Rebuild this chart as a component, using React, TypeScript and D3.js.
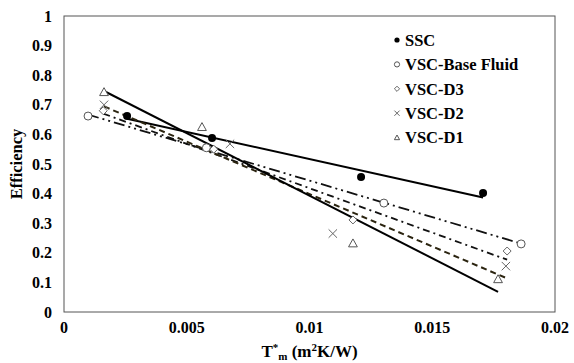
import React from "react";
import * as d3 from "d3";

// efficiency vs reduced temperature
const sscData = [
  [0.00257, 0.662],
  [0.00603, 0.588],
  [0.0121, 0.456],
  [0.01707, 0.402],
];
const baseFluidData = [
  [0.00098, 0.662],
  [0.0058, 0.555],
  [0.01303, 0.368],
  [0.01862, 0.23],
];
const d3Data = [
  [0.0016, 0.68],
  [0.0061, 0.55],
  [0.01177, 0.311],
  [0.01805, 0.206],
];
const d2Data = [
  [0.00163, 0.7],
  [0.00676, 0.568],
  [0.01095, 0.265],
  [0.018, 0.155],
];
const d1Data = [
  [0.00163, 0.743],
  [0.00562, 0.625],
  [0.01177, 0.232],
  [0.01768, 0.111],
];

const seriesNames = ["SSC", "VSC-Base Fluid", "VSC-D3", "VSC-D2", "VSC-D1"];
const xTicks = [0, 0.005, 0.01, 0.015, 0.02];
const xTickLabels = ["0", "0.005", "0.01", "0.015", "0.02"];
const yTicks = [0, 0.1, 0.2, 0.3, 0.4, 0.5, 0.6, 0.7, 0.8, 0.9, 1];
const yTickLabels = ["0", "0.1", "0.2", "0.3", "0.4", "0.5", "0.6", "0.7", "0.8", "0.9", "1"];

const W = 574;
const H = 363;
const margin = { left: 64, right: 19, top: 16, bottom: 51 };
const font = "'Liberation Serif', 'Times New Roman', serif";

// excel style linear trendline over the data's x range
function trend(pts: number[][]) {
  const mx = d3.mean(pts, (p) => p[0]) as number;
  const my = d3.mean(pts, (p) => p[1]) as number;
  const sxy = d3.sum(pts, (p) => (p[0] - mx) * (p[1] - my));
  const sxx = d3.sum(pts, (p) => (p[0] - mx) ** 2);
  const b = sxy / sxx;
  const [x0, x1] = d3.extent(pts, (p) => p[0]) as [number, number];
  return [
    [x0, my + b * (x0 - mx)],
    [x1, my + b * (x1 - mx)],
  ];
}

const Marker = ({ kind, x, y, s }: { kind: string; x: number; y: number; s: number }) => {
  if (kind === "dot") return <circle cx={x} cy={y} r={s} fill="#000" />;
  if (kind === "circle")
    return <circle cx={x} cy={y} r={s} fill="#fff" stroke="#555" strokeWidth={1} />;
  if (kind === "diamond")
    return (
      <path
        d={`M${x},${y - s}L${x + s},${y}L${x},${y + s}L${x - s},${y}Z`}
        fill="#fff"
        stroke="#666"
        strokeWidth={1}
      />
    );
  if (kind === "cross")
    return (
      <path
        d={`M${x - s},${y - s}L${x + s},${y + s}M${x - s},${y + s}L${x + s},${y - s}`}
        stroke="#666"
        strokeWidth={1}
      />
    );
  return (
    <path
      d={`M${x},${y - s}L${x + s},${y + s * 0.8}L${x - s},${y + s * 0.8}Z`}
      fill="#fff"
      stroke="#555"
      strokeWidth={1}
    />
  );
};

export default function App() {
  const x = d3.scaleLinear().domain([0, 0.02]).range([margin.left, W - margin.right]);
  const y = d3.scaleLinear().domain([0, 1]).range([H - margin.bottom, margin.top]);
  const line = d3
    .line<number[]>()
    .x((d) => x(d[0]))
    .y((d) => y(d[1]));

  const series = [
    { data: sscData, marker: "dot", size: 4, dash: "", color: "#000", width: 2 },
    { data: baseFluidData, marker: "circle", size: 4, dash: "11,4,2,4,2,4", color: "#111", width: 1.8 },
    { data: d3Data, marker: "diamond", size: 4, dash: "7,4,2,4", color: "#111", width: 1.8 },
    { data: d2Data, marker: "cross", size: 4.2, dash: "6,4", color: "#2b2410", width: 2 },
    { data: d1Data, marker: "triangle", size: 4.4, dash: "", color: "#000", width: 2 },
  ];

  return (
    <div style={{ position: "absolute", left: 0, top: 0 }}>
      <svg width={W} height={H} style={{ display: "block", background: "#fff" }}>
        <rect
          x={margin.left}
          y={margin.top}
          width={W - margin.left - margin.right}
          height={H - margin.top - margin.bottom}
          fill="none"
          stroke="#555"
          strokeWidth={1}
        />
        {yTicks.map((t, i) => (
          <text
            key={"y" + i}
            x={52}
            y={y(t)}
            dy="0.35em"
            textAnchor="end"
            fontFamily={font}
            fontWeight="bold"
            fontSize={16}
          >
            {yTickLabels[i]}
          </text>
        ))}
        {xTicks.map((t, i) => (
          <text
            key={"x" + i}
            x={x(t)}
            y={333}
            textAnchor="middle"
            fontFamily={font}
            fontWeight="bold"
            fontSize={16}
          >
            {xTickLabels[i]}
          </text>
        ))}
        <text
          transform={`translate(22,${(y(0) + y(1)) / 2}) rotate(-90)`}
          textAnchor="middle"
          fontFamily={font}
          fontWeight="bold"
          fontSize={16.5}
        >
          Efficiency
        </text>
        <text
          x={(x(0) + x(0.02)) / 2}
          y={357}
          textAnchor="middle"
          fontFamily={font}
          fontWeight="bold"
          fontSize={17}
        >
          T
          <tspan fontSize={11} dy={-6}>*</tspan>
          <tspan fontSize={11} dy={9}>m</tspan>
          <tspan dy={-3}> (m</tspan>
          <tspan fontSize={11} dy={-6}>2</tspan>
          <tspan dy={6}>K/W)</tspan>
        </text>

        {series.map((s, i) => (
          <path
            key={"t" + i}
            d={line(trend(s.data)) || ""}
            fill="none"
            stroke={s.color}
            strokeWidth={s.width}
            strokeDasharray={s.dash}
          />
        ))}
        {series.map((s, i) =>
          s.data.map((p, j) => (
            <Marker key={`m${i}-${j}`} kind={s.marker} x={x(p[0])} y={y(p[1])} s={s.size} />
          ))
        )}

        {seriesNames.map((name, i) => (
          <g key={"l" + i} transform={`translate(397,${40 + i * 24.4})`}>
            <Marker kind={series[i].marker} x={0} y={0} s={2.6} />
            <text
              x={8}
              dy="0.35em"
              fontFamily={font}
              fontWeight="bold"
              fontSize={16.5}
            >
              {name}
            </text>
          </g>
        ))}
      </svg>
    </div>
  );
}
